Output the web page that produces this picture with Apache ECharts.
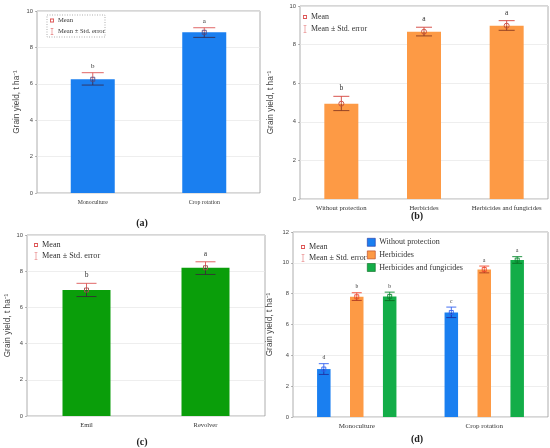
<!DOCTYPE html>
<html><head><meta charset="utf-8">
<script src="https://cdn.jsdelivr.net/npm/echarts@6/dist/echarts.min.js"></script>
<style>html,body{margin:0;padding:0;background:#fff}#c{width:550px;height:448px}</style>
</head><body><div id="c"></div>
<script>
// ---- data ----
const catsA = ['Monoculture', 'Crop rotation'];
const meanA = [6.25, 8.83];
const loA = [5.93, 8.55];
const hiA = [6.61, 9.08];
const letA = ['b', 'a'];

const catsB = ['Without protection', 'Herbicides', 'Herbicides and fungicides'];
const meanB = [4.94, 8.67, 8.98];
const loB = [4.58, 8.45, 8.74];
const hiB = [5.32, 8.90, 9.24];
const letB = ['b', 'a', 'a'];

const catsC = ['Emil', 'Revolver'];
const meanC = [6.96, 8.19];
const loC = [6.60, 7.82];
const hiC = [7.33, 8.52];
const letC = ['b', 'a'];

const catsD = ['Monoculture', 'Crop rotation'];
const seriesD = ['Without protection', 'Herbicides', 'Herbicides and fungicides'];
const meanD1 = [3.11, 6.78], loD1 = [2.76, 6.45], hiD1 = [3.46, 7.13], letD1 = ['d', 'c'];
const meanD2 = [7.80, 9.57], loD2 = [7.56, 9.35], hiD2 = [8.06, 9.79], letD2 = ['b', 'a'];
const meanD3 = [7.82, 10.18], loD3 = [7.55, 9.97], hiD3 = [8.10, 10.40], letD3 = ['b', 'a'];

const yTicksABC = [0, 2, 4, 6, 8, 10];
const yTicksD = [0, 2, 4, 6, 8, 10, 12];

// ---- styles ----
const SERIF = '"Liberation Serif", "DejaVu Serif", serif';
const SANS = '"Liberation Sans", "Noto Sans", sans-serif';
const BLUE = '#1a7ff0', ORANGE = '#fd9a45', GREEN_C = '#0a9e0a', GREEN_D = '#13ad48';
const RED = '#dd5555';
const YNAME = 'Grain yield, t ha⁻¹';

const chart = echarts.init(document.getElementById('c'), null, {renderer: 'canvas'});

const grids = [
  {left: 37, top: 11, width: 223, height: 182},
  {left: 300, top: 6, width: 248, height: 193},
  {left: 27, top: 235, width: 238, height: 181},
  {left: 293, top: 232, width: 255, height: 185}
].map(g => Object.assign({show: true, borderColor: '#9a9a9a', borderWidth: 0.8, backgroundColor: '#fff'}, g));

const catFont = [5.8, 6.7, 6.5, 7];
const xAxes = [catsA, catsB, catsC, catsD].map((d, i) => ({
  type: 'category', gridIndex: i, data: d,
  axisLine: {show: false}, axisTick: {show: false},
  axisLabel: {fontFamily: SERIF, fontSize: catFont[i], color: '#333', margin: 6, interval: 0}
}));
const nameGaps = [16, 25, 15, 19];
const yAxes = [0, 1, 2, 3].map(i => {
  const ticks = i === 3 ? yTicksD : yTicksABC;
  return {
    type: 'value', gridIndex: i, min: ticks[0], max: ticks[ticks.length - 1], interval: 2,
    name: YNAME, nameLocation: 'middle', nameRotate: 90, nameGap: nameGaps[i],
    nameTextStyle: {fontFamily: SANS, fontSize: 8.3, color: '#444'},
    axisLine: {show: false},
    axisTick: {show: true, length: 2, lineStyle: {color: '#888', width: 0.6}},
    axisLabel: {fontFamily: SANS, fontSize: 5.8, color: '#444', margin: 4},
    splitLine: {show: true, lineStyle: {color: '#e6e6e6', width: 0.7}}
  };
});

function toData(mean, lo, hi) {
  return mean.map((m, i) => [i, m, lo[i], hi[i]]);
}

// error bar renderer
function errRender(letters, offset, capHalf, upColor, downColor, letterSize, letterGap) {
  return function (params, api) {
    const x = api.value(0), m = api.value(1), lo = api.value(2), hi = api.value(3);
    const pm = api.coord([x, m]);
    const cx = pm[0] + offset;
    const yHi = api.coord([x, hi])[1];
    const yLo = api.coord([x, lo])[1];
    const yM = pm[1];
    return {
      type: 'group',
      children: [
        {type: 'line', shape: {x1: cx, y1: yHi, x2: cx, y2: yM}, style: {stroke: upColor, lineWidth: 0.9}},
        {type: 'line', shape: {x1: cx - capHalf, y1: yHi, x2: cx + capHalf, y2: yHi}, style: {stroke: upColor, lineWidth: 0.9}},
        {type: 'line', shape: {x1: cx, y1: yM, x2: cx, y2: yLo}, style: {stroke: downColor, lineWidth: 0.9}},
        {type: 'line', shape: {x1: cx - capHalf, y1: yLo, x2: cx + capHalf, y2: yLo}, style: {stroke: downColor, lineWidth: 0.9}},
        {type: 'text', style: {text: letters[params.dataIndex], x: cx, y: yHi - letterGap, align: 'center', verticalAlign: 'bottom',
          font: letterSize + 'px ' + SERIF, fill: '#333'}}
      ]
    };
  };
}
function meanRender(offset, size, shape, color) {
  return function (params, api) {
    const p = api.coord([api.value(0), api.value(1)]);
    const cx = p[0] + offset;
    if (shape === 'circle') {
      return {type: 'circle', shape: {cx: cx, cy: p[1], r: size / 2}, style: {fill: 'none', stroke: color, lineWidth: 0.9}};
    }
    return {type: 'rect', shape: {x: cx - size / 2, y: p[1] - size / 2, width: size, height: size}, style: {fill: 'none', stroke: color, lineWidth: 0.9}};
  };
}

const series = [];
function addPanel(idx, cats, mean, lo, hi, letters, color, barWidth, opts) {
  series.push({type: 'bar', name: opts.barName || ('bars' + idx + (opts.k || 0)), xAxisIndex: idx, yAxisIndex: idx,
    data: mean, barWidth: barWidth, barGap: opts.barGap || '0%', itemStyle: {color: color}, z: 2});
  series.push({type: 'custom', name: 'Mean ± Std. error', xAxisIndex: idx, yAxisIndex: idx,
    data: toData(mean, lo, hi), encode: {x: 0, y: 1}, z: 5, itemStyle: {color: RED},
    renderItem: errRender(letters, opts.offset || 0, opts.cap, opts.up, opts.down, opts.letterSize, opts.letterGap)});
  series.push({type: 'custom', name: 'Mean', xAxisIndex: idx, yAxisIndex: idx,
    data: toData(mean, lo, hi), encode: {x: 0, y: 1}, z: 6, itemStyle: {color: RED},
    renderItem: meanRender(opts.offset || 0, opts.msize, opts.mshape, opts.mcolor)});
}

addPanel(0, catsA, meanA, loA, hiA, letA, BLUE, 44, {cap: 11, up: RED, down: '#33305a', letterSize: 7, letterGap: 3, msize: 4, mshape: 'rect', mcolor: '#5a4a80'});
addPanel(1, catsB, meanB, loB, hiB, letB, ORANGE, 34, {cap: 8, up: '#d2413a', down: '#8a3a20', letterSize: 7.5, letterGap: 4, msize: 5, mshape: 'circle', mcolor: '#c84b3b'});
addPanel(2, catsC, meanC, loC, hiC, letC, GREEN_C, 48, {cap: 10, up: RED, down: '#333', letterSize: 7.5, letterGap: 4, msize: 4, mshape: 'rect', mcolor: '#a05050'});

const bwD = 13.5, gapD = 1.44;
const dColors = [BLUE, ORANGE, GREEN_D];
const dUp = ['#3060f0', '#f04a30', '#0a8a30'];
const dDown = ['#2030a0', '#b03a20', '#0a6a20'];
const dM = [[meanD1, loD1, hiD1, letD1], [meanD2, loD2, hiD2, letD2], [meanD3, loD3, hiD3, letD3]];
dM.forEach((s, k) => {
  addPanel(3, catsD, s[0], s[1], s[2], s[3], dColors[k], bwD, {barName: seriesD[k], barGap: (gapD * 100) + '%', k: k,
    offset: (k - 1) * bwD * (1 + gapD), cap: 5, up: dUp[k], down: dDown[k], letterSize: 5.5, letterGap: 3,
    msize: 4, mshape: 'rect', mcolor: dUp[k]});
});

const meanIcon = 'path://M0,3h4v4h-4z M0.9,3.9v2.2h2.2v-2.2z';
const errIcon = 'path://M0,0h4v0.7h-1.65v8.6h1.65v0.7h-4v-0.7h1.65v-8.6h-1.65z';
function statLegend(left, top, fs, gap) {
  return {
    orient: 'vertical', left: left, top: top, itemGap: gap, itemWidth: 4, itemHeight: 7,
    padding: 0, selectedMode: false,
    textStyle: {fontFamily: SERIF, fontSize: fs, color: '#333', padding: [0, 0, 0, -1]},
    data: [
      {name: 'Mean', icon: meanIcon, itemStyle: {color: RED, borderWidth: 0}},
      {name: 'Mean ± Std. error', icon: errIcon, itemStyle: {color: RED, borderWidth: 0}}
    ]
  };
}

const option = {
  animation: false,
  backgroundColor: '#fff',
  title: [
    {text: '(a)', left: 137, top: 213, textAlign: 'center'},
    {text: '(b)', left: 412, top: 206, textAlign: 'center'},
    {text: '(c)', left: 137, top: 432, textAlign: 'center'},
    {text: '(d)', left: 412, top: 429, textAlign: 'center'}
  ].map(t => Object.assign(t, {textStyle: {fontFamily: SERIF, fontSize: 10, fontWeight: 'bold', color: '#222'}})),
  grid: grids,
  xAxis: xAxes,
  yAxis: yAxes,
  legend: [
    statLegend(50, 17, 6.6, 4),
    statLegend(303, 13, 7.9, 4),
    statLegend(34, 241, 8.2, 3),
    statLegend(301, 243, 8.1, 3),
    {
      orient: 'vertical', left: 367, top: 238, itemGap: 4, itemWidth: 8, itemHeight: 8, padding: 0, selectedMode: false,
      textStyle: {fontFamily: SERIF, fontSize: 8, color: '#333', padding: [0, 0, 0, -1]},
      data: seriesD.map((n, k) => ({name: n, icon: 'rect', itemStyle: {color: dColors[k], borderColor: dDown[k], borderWidth: 0.6}}))
    }
  ],
  graphic: [
    {type: 'rect', shape: {x: 47, y: 15, width: 58, height: 22}, style: {fill: 'none', stroke: '#777', lineWidth: 0.6, lineDash: [1, 1.5]}, z: 100}
  ],
  series: series
};
chart.setOption(option);
</script>
</body></html>
